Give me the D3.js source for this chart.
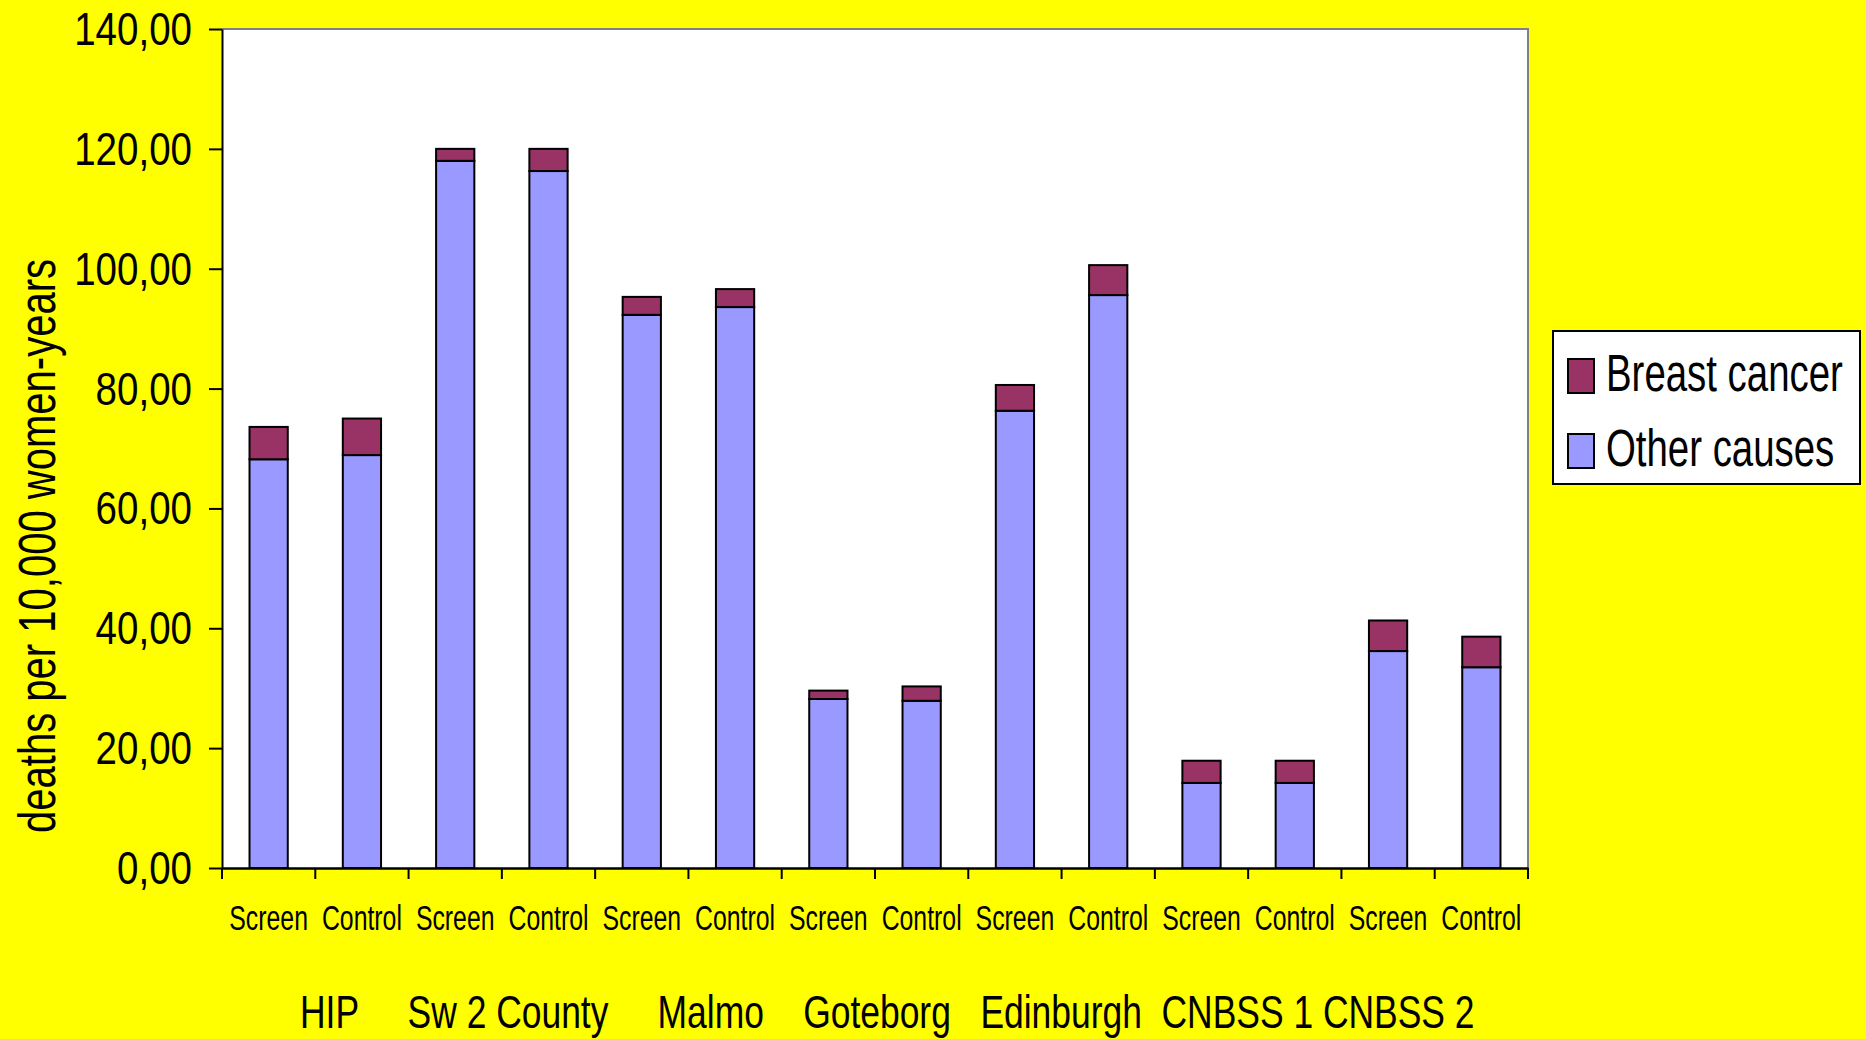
<!DOCTYPE html>
<html>
<head>
<meta charset="utf-8">
<script src="https://cdn.jsdelivr.net/npm/d3@7"></script>
<style>
  html, body { margin: 0; padding: 0; background: #FFFF00; }
  svg { display: block; }
  text { font-family: "Liberation Sans", Arial, sans-serif; fill: #000; }
</style>
</head>
<body>
<script>
// ---- data ----
const groups = ["HIP", "Sw 2 County", "Malmo", "Goteborg", "Edinburgh", "CNBSS 1", "CNBSS 2"];
const arms = ["Screen", "Control"];
const otherCauses = [68.2, 68.9, 118.0, 116.3, 92.3, 93.6, 28.2, 27.9, 76.3, 95.6, 14.2, 14.2, 36.2, 33.5];
const breastCancer = [5.4, 6.1, 2.0, 3.7, 3.0, 3.0, 1.4, 2.4, 4.3, 5.0, 3.7, 3.7, 5.1, 5.1];
const seriesNames = ["Other causes", "Breast cancer"];
const seriesColors = ["#9999FF", "#993366"];
const yTicks = [0, 20, 40, 60, 80, 100, 120, 140];
const groupGaps = [5, 5, 4, 3, 2, 1]; // spaces between group names in the label line
const yTitle = "deaths per 10,000 women-years";

// ---- layout ----
const W = 1866, H = 1039;
const plot = { left: 222, right: 1528, top: 29, bottom: 868 };

const rows = [];
groups.forEach((g, gi) => arms.forEach((a, ai) => {
  const i = gi * arms.length + ai;
  rows.push({ key: g + "|" + a, group: g, arm: a, "Other causes": otherCauses[i], "Breast cancer": breastCancer[i] });
}));

const svg = d3.select("body").append("svg").attr("width", W).attr("height", H);
svg.append("rect").attr("width", W).attr("height", H).attr("fill", "#FFFF00");

const x = d3.scaleBand().domain(rows.map(r => r.key)).range([plot.left, plot.right]).padding(0);
const y = d3.scaleLinear().domain([0, 140]).range([plot.bottom, plot.top]);

// plot area
svg.append("rect").attr("x", plot.left).attr("y", plot.top)
  .attr("width", plot.right - plot.left).attr("height", plot.bottom - plot.top)
  .attr("fill", "#FFFFFF");
svg.append("path")
  .attr("d", `M${plot.left},${plot.top}H${plot.right}V${plot.bottom}`)
  .attr("fill", "none").attr("stroke", "#808080").attr("stroke-width", 2);

// bars
const stack = d3.stack().keys(seriesNames)(rows);
const barW = x.bandwidth() * 0.41;
svg.append("g").selectAll("g").data(stack).join("g")
  .attr("fill", (d, i) => seriesColors[i])
  .selectAll("rect").data(d => d).join("rect")
  .attr("x", d => x(d.data.key) + (x.bandwidth() - barW) / 2)
  .attr("width", barW)
  .attr("y", d => y(d[1]))
  .attr("height", d => y(d[0]) - y(d[1]))
  .attr("stroke", "#000").attr("stroke-width", 2);

// y axis
const yAxis = d3.axisLeft(y).tickValues(yTicks).tickSize(13).tickSizeOuter(0).tickFormat("");
const gy = svg.append("g").attr("transform", `translate(${plot.left},0)`).call(yAxis);
gy.selectAll("path, line").attr("stroke", "#000").attr("stroke-width", 2);
const loc = d3.formatLocale({ decimal: ",", thousands: ".", grouping: [3], currency: ["", ""] });
const fmt = loc.format(".2f");
svg.append("g").selectAll("text").data(yTicks).join("text")
  .attr("transform", d => `translate(192,${y(d) + 16}) scale(0.82,1)`)
  .attr("text-anchor", "end")
  .attr("font-size", 47)
  .text(d => fmt(d));

// x axis
const xAxis = d3.axisBottom(x).tickSize(0).tickFormat("").tickSizeOuter(0);
const gx = svg.append("g").attr("transform", `translate(0,${plot.bottom})`).call(xAxis);
gx.selectAll("path").attr("stroke", "#000").attr("stroke-width", 2.5);
const boundaries = rows.map(r => x(r.key)).concat([plot.right]);
svg.append("g").selectAll("line").data(boundaries).join("line")
  .attr("x1", d => d).attr("x2", d => d)
  .attr("y1", plot.bottom).attr("y2", plot.bottom + 11)
  .attr("stroke", "#000").attr("stroke-width", 2);

// arm labels
svg.append("g").selectAll("text").data(rows).join("text")
  .attr("transform", d => `translate(${x(d.key) + x.bandwidth() / 2},930) scale(0.69,1)`)
  .attr("text-anchor", "middle")
  .attr("font-size", 36)
  .text(d => d.arm);

// group labels line
let line = groups[0];
for (let i = 1; i < groups.length; i++) line += " ".repeat(groupGaps[i - 1]) + groups[i];
svg.append("text")
  .attr("transform", `translate(300,1028) scale(0.77,1)`)
  .attr("font-size", 46)
  .style("white-space", "pre")
  .attr("xml:space", "preserve")
  .text(line);

// y title
svg.append("text")
  .attr("transform", `translate(55,546) rotate(-90) scale(0.77,1)`)
  .attr("text-anchor", "middle")
  .attr("font-size", 52)
  .text(yTitle);

// legend
const lg = svg.append("g");
lg.append("rect").attr("x", 1553).attr("y", 331).attr("width", 307).attr("height", 153)
  .attr("fill", "#fff").attr("stroke", "#000").attr("stroke-width", 2);
const legendItems = ["Breast cancer", "Other causes"];
const legendY = d3.scalePoint().domain(legendItems).range([376, 451]);
lg.selectAll("rect.sw").data(legendItems).join("rect").attr("class", "sw")
  .attr("x", 1568).attr("width", 26)
  .attr("y", d => legendY(d) - 17).attr("height", 34)
  .attr("fill", d => seriesColors[seriesNames.indexOf(d)])
  .attr("stroke", "#000").attr("stroke-width", 2);
lg.selectAll("text").data(legendItems).join("text")
  .attr("transform", d => `translate(1606,${legendY(d) + 15}) scale(0.753,1)`)
  .attr("font-size", 51)
  .text(d => d);
</script>
</body>
</html>
